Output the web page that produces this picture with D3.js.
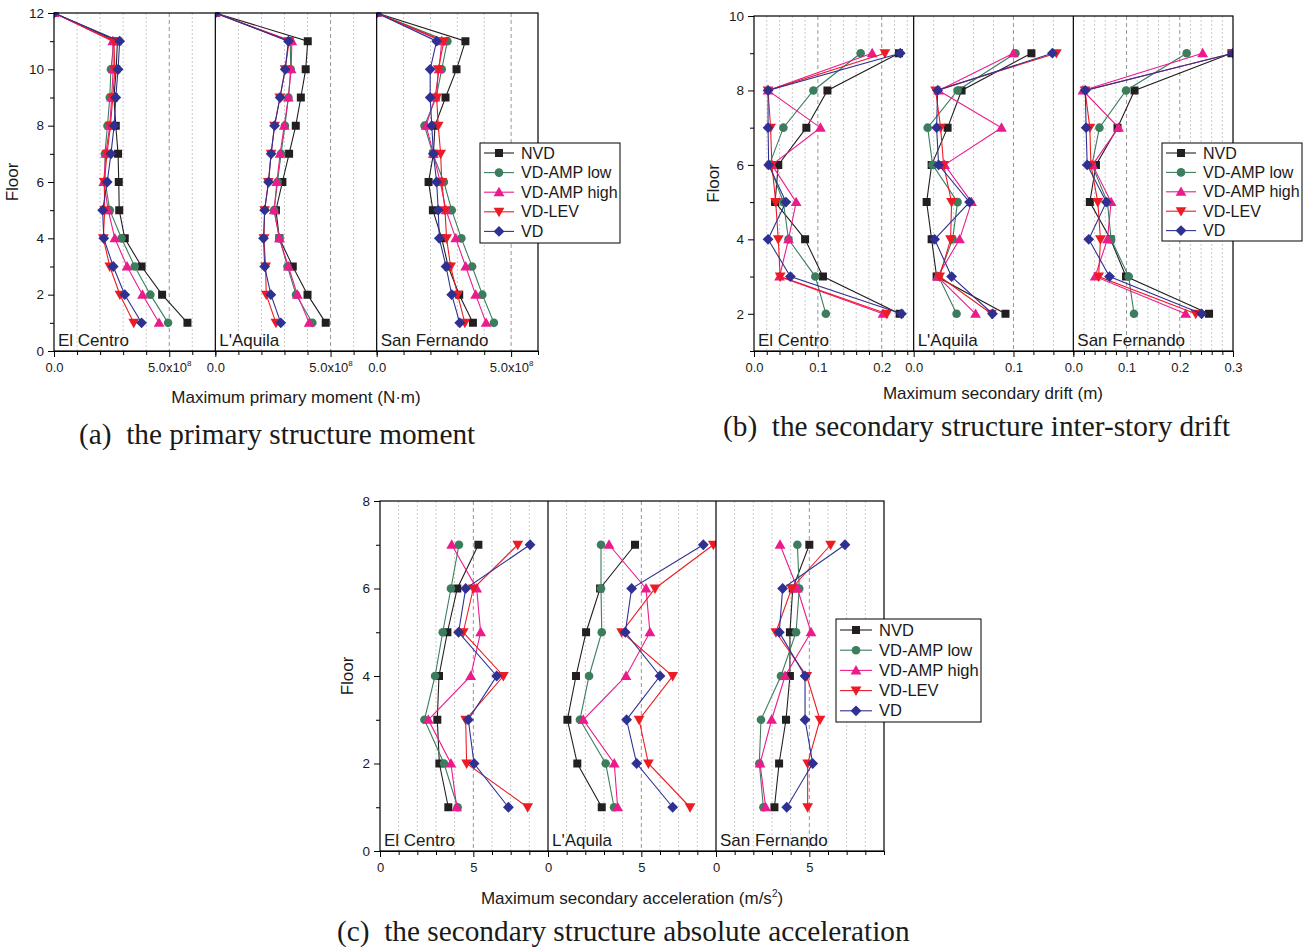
<!DOCTYPE html>
<html><head><meta charset="utf-8">
<script src="https://cdn.jsdelivr.net/npm/d3@7/dist/d3.min.js"></script>
<style>
body{margin:0;background:#fff;}
svg{display:block;}
text{font-family:"Liberation Sans",Arial,Helvetica,sans-serif;fill:#1a1a1a;}
.cap{font-family:"Liberation Serif","Times New Roman",serif;white-space:pre;}
</style>
</head><body>
<svg id="chart" width="1311" height="950"></svg>
<script>
// ---------- shared ----------
const seriesNames  = ["NVD", "VD-AMP low", "VD-AMP high", "VD-LEV", "VD"];
const seriesColors = ["#231f20", "#3b7d5d", "#ec1b8c", "#ed1c24", "#2e3192"];
const seriesShapes = ["square", "circle", "triUp", "triDown", "diamond"];
const sites = ["El Centro", "L'Aquila", "San Fernando"];

// ---------- (a) primary moment, units of 1e8 N·m ----------
const momentFloors = [1,2,3,4,5,6,7,8,9,10,11,12];
const momentElCentro = [
  [5.79,4.69,3.80,3.07,2.83,2.81,2.78,2.68,2.60,2.70,2.75,0],
  [4.95,4.18,3.50,2.93,2.42,2.22,2.21,2.32,2.42,2.47,2.60,0],
  [4.56,3.84,3.17,2.64,2.35,2.16,2.25,2.42,2.50,2.57,2.55,0],
  [3.46,2.86,2.42,2.14,2.20,2.18,2.30,2.45,2.55,2.64,2.60,0],
  [3.80,3.07,2.57,2.16,2.11,2.31,2.47,2.61,2.68,2.78,2.85,0]
];
const momentLAquila = [
  [4.79,4.00,3.36,2.78,2.63,2.91,3.20,3.49,3.71,3.92,4.01,0],
  [4.21,3.50,3.13,2.78,2.55,2.70,2.85,3.02,3.17,3.27,3.25,0],
  [4.07,3.56,3.17,2.78,2.55,2.67,2.81,2.99,3.17,3.29,3.32,0],
  [2.63,2.21,2.18,2.11,2.14,2.30,2.42,2.57,2.80,3.03,3.20,0],
  [2.84,2.41,2.14,2.09,2.14,2.31,2.42,2.57,2.81,3.03,3.17,0]
];
const momentSanFernando = [
  [3.58,3.07,2.66,2.42,2.09,1.93,2.11,2.17,2.56,2.97,3.30,0],
  [4.36,3.93,3.55,3.15,2.79,2.50,2.09,1.78,2.21,2.42,2.63,0],
  [4.07,3.68,3.31,2.94,2.58,2.36,2.11,1.84,2.17,2.32,2.42,0],
  [3.28,3.01,2.75,2.60,2.54,2.42,2.38,2.29,2.23,2.29,2.50,0],
  [3.09,2.79,2.58,2.33,2.29,2.23,2.11,2.05,1.99,1.99,2.23,0]
];
const momentMax = [7, 7, 6];

// ---------- (b) secondary drift, m ----------
const driftFloors = [2,3,4,5,6,7,8,9];
const driftElCentro = [
  [0.228,0.108,0.080,0.033,0.038,0.082,0.115,0.227],
  [0.1125,0.096,0.054,0.046,0.024,0.046,0.093,0.167],
  [0.202,0.040,0.054,0.066,0.028,0.104,0.022,0.185],
  [0.208,0.041,0.038,0.034,0.028,0.026,0.022,0.205],
  [0.231,0.057,0.022,0.050,0.023,0.022,0.022,0.229]
];
const driftLAquila = [
  [0.092,0.023,0.018,0.013,0.018,0.034,0.048,0.118],
  [0.043,0.025,0.039,0.044,0.019,0.014,0.044,0.102],
  [0.062,0.024,0.046,0.058,0.031,0.088,0.025,0.100],
  [0.078,0.026,0.037,0.038,0.030,0.027,0.022,0.143],
  [0.079,0.038,0.021,0.056,0.025,0.023,0.024,0.139]
];
const driftSanFernando = [
  [0.255,0.099,0.070,0.031,0.0425,0.083,0.115,0.297],
  [0.114,0.104,0.071,0.064,0.035,0.049,0.099,0.213],
  [0.211,0.041,0.064,0.071,0.036,0.085,0.018,0.243],
  [0.230,0.0475,0.051,0.046,0.033,0.031,0.022,0.300],
  [0.241,0.068,0.029,0.062,0.026,0.024,0.0225,0.300]
];
const driftMax = [0.25, 0.16, 0.30];

// ---------- (c) secondary acceleration, m/s² ----------
const accFloors = [1,2,3,4,5,6,7];
const accElCentro = [
  [3.66,3.18,3.07,3.16,3.61,4.14,5.27],
  [4.16,3.43,2.38,2.95,3.36,3.80,4.23],
  [4.11,3.80,2.59,4.86,5.39,5.18,3.84],
  [7.91,4.64,4.59,6.61,4.46,5.00,7.38],
  [6.88,5.04,4.73,6.25,4.21,4.59,8.04]
];
const accLAquila = [
  [2.88,1.57,1.04,1.50,2.04,2.79,4.66],
  [3.54,3.09,1.71,2.20,2.88,2.84,2.84],
  [3.73,3.55,1.89,4.18,5.46,5.25,3.27],
  [7.61,5.38,4.88,6.68,3.95,5.73,8.86],
  [6.68,4.75,4.21,6.00,4.14,4.48,8.32]
];
const accSanFernando = [
  [3.13,3.38,3.75,3.96,3.96,4.11,5.00],
  [2.54,2.32,2.41,3.48,4.29,4.46,4.36],
  [2.66,2.36,2.98,3.70,5.09,4.36,3.43],
  [4.91,4.91,5.57,4.86,3.21,4.05,6.14],
  [3.79,5.18,4.77,4.77,3.39,3.57,6.91]
];
const accMax = [9, 9, 9];

// ---------- drawing ----------
const svg = d3.select("#chart");
let clipId = 0;

function markerPath(shape) {
  switch (shape) {
    case "square":  { const h = 4.0; return `M${-h},${-h}H${h}V${h}H${-h}Z`; }
    case "circle":  { const r = 4.3; return `M${r},0A${r},${r} 0 1,1 ${-r},0A${r},${r} 0 1,1 ${r},0Z`; }
    case "triUp":   return "M0,-5.4L5.4,4L-5.4,4Z";
    case "triDown": return "M0,5.4L5.4,-4L-5.4,-4Z";
    case "diamond": { const h = 5.4; return `M0,${-h}L${h},0L0,${h}L${-h},0Z`; }
  }
}

function drawPanel(p) {
  const g = svg.append("g");
  const ys = d3.scaleLinear().domain(p.yDomain).range([p.y1, p.y0]);
  const w = (p.x1 - p.x0) / 3;

  p.subs.forEach((sub, i) => {
    const sx = p.x0 + i * w;
    const xs = d3.scaleLinear().domain([0, sub.max]).range([sx, sx + w]);
    const eq = (a, b) => Math.abs(a - b) < 1e-9;
    const minor = d3.range(0, sub.max + sub.step / 2, sub.step).map(v => +v.toFixed(6));
    const isMajor = v => sub.majors.some(m => eq(m, v));

    // grid lines
    minor.filter(v => v > 1e-9 && v < sub.max - 1e-9).forEach(v => {
      g.append("line")
        .attr("x1", xs(v)).attr("x2", xs(v)).attr("y1", p.y0).attr("y2", p.y1)
        .attr("stroke", isMajor(v) ? "#8a8a8a" : "#c4c4c4")
        .attr("stroke-width", 0.9)
        .attr("stroke-dasharray", isMajor(v) ? "4,3" : "2,2");
    });

    // bottom axis minor ticks
    const axMinor = g.append("g").attr("transform", `translate(0,${p.y1})`)
      .call(d3.axisBottom(xs).tickValues(minor.filter(v => !isMajor(v))).tickSize(4).tickSizeOuter(0).tickFormat(""));
    axMinor.select(".domain").attr("stroke", "#000");
    axMinor.selectAll(".tick line").attr("stroke", "#000");
    // bottom axis major ticks with labels
    const axMajor = g.append("g").attr("transform", `translate(0,${p.y1})`)
      .call(d3.axisBottom(xs).tickValues(sub.majors).tickSize(6).tickSizeOuter(0).tickPadding(6)
        .tickFormat((d, k) => sub.labels[k]));
    axMajor.select(".domain").remove();
    axMajor.selectAll(".tick line").attr("stroke", "#000");
    axMajor.selectAll(".tick text").attr("font-size", 13).attr("fill", "#1a1a1a")
      .attr("font-family", '"Liberation Sans",Arial,sans-serif');
    if (sub.sup) {
      axMajor.selectAll(".tick text").each(function (d, k) {
        if (sub.sup[k]) {
          d3.select(this).append("tspan").attr("font-size", 8).attr("dy", -6).text(sub.sup[k]);
        }
      });
    }

    // clip for series
    const cid = "clip" + (clipId++);
    svg.append("clipPath").attr("id", cid).append("rect")
      .attr("x", sx).attr("y", p.y0 - 0.5).attr("width", w).attr("height", p.y1 - p.y0 + 1);
    const sg = g.append("g").attr("clip-path", `url(#${cid})`);
    const line = d3.line().x(d => xs(d.v)).y(d => ys(d.f));
    p.data[i].forEach((vals, s) => {
      const pts = vals.map((v, k) => ({ v, f: p.floors[k] }));
      sg.append("path").datum(pts).attr("d", line)
        .attr("fill", "none").attr("stroke", seriesColors[s]).attr("stroke-width", 1.1);
      sg.selectAll(null).data(pts).enter().append("path")
        .attr("d", markerPath(seriesShapes[s]))
        .attr("transform", d => `translate(${xs(d.v)},${ys(d.f)})`)
        .attr("fill", seriesColors[s]);
    });

    // site label
    g.append("text").attr("x", sx + 4).attr("y", p.y1 - 5)
      .attr("font-size", 17).text(sites[i]);

    // dividers
    if (i > 0) {
      g.append("line").attr("x1", sx).attr("x2", sx).attr("y1", p.y0).attr("y2", p.y1)
        .attr("stroke", "#000").attr("stroke-width", 1.2);
    }
  });

  // frame
  g.append("rect").attr("x", p.x0).attr("y", p.y0).attr("width", p.x1 - p.x0).attr("height", p.y1 - p.y0)
    .attr("fill", "none").attr("stroke", "#000").attr("stroke-width", 1.2);

  // left axis
  const axL = g.append("g").attr("transform", `translate(${p.x0},0)`)
    .call(d3.axisLeft(ys).tickValues(p.yMinor).tickSize(4).tickSizeOuter(0).tickFormat(""));
  axL.select(".domain").remove();
  const axL2 = g.append("g").attr("transform", `translate(${p.x0},0)`)
    .call(d3.axisLeft(ys).tickValues(p.yMajor).tickSize(6).tickSizeOuter(0).tickPadding(4).tickFormat(d3.format("d")));
  axL2.select(".domain").remove();
  axL2.selectAll(".tick text").attr("font-size", 13.5).attr("fill", "#1a1a1a")
    .attr("font-family", '"Liberation Sans",Arial,sans-serif');

  // Floor label
  g.append("text").attr("transform", `translate(${p.floorX},${(p.y0 + p.y1) / 2}) rotate(-90)`)
    .attr("text-anchor", "middle").attr("font-size", 17).text("Floor");

  // x title
  const xt = g.append("text").attr("x", p.xTitleX).attr("y", p.xTitleY)
    .attr("text-anchor", "middle").attr("font-size", 17).text(p.xTitle);
  if (p.xTitleSup) {
    xt.append("tspan").attr("font-size", 10).attr("dy", -7).text(p.xTitleSup);
    xt.append("tspan").attr("dy", 7).text(p.xTitleEnd);
  }

  // caption
  g.append("text").attr("class", "cap").attr("x", p.capX).attr("y", p.capY)
    .attr("font-size", 29.3).text(p.caption);

  // legend
  const L = p.legend;
  const lg = g.append("g");
  lg.append("rect").attr("x", L.x).attr("y", L.y).attr("width", L.w).attr("height", L.h)
    .attr("fill", "#fff").attr("stroke", "#000").attr("stroke-width", 1);
  seriesNames.forEach((name, s) => {
    const cy = L.y + L.first + s * L.rowH;
    lg.append("line").attr("x1", L.x + 4).attr("x2", L.x + 4 + L.lineW).attr("y1", cy).attr("y2", cy)
      .attr("stroke", seriesColors[s]).attr("stroke-width", 1.1);
    lg.append("path").attr("d", markerPath(seriesShapes[s]))
      .attr("transform", `translate(${L.x + 4 + L.lineW / 2},${cy})`).attr("fill", seriesColors[s]);
    lg.append("text").attr("x", L.x + 11 + L.lineW).attr("y", cy + 5.5).attr("font-size", L.fs).text(name);
  });
}

// (a)
drawPanel({
  x0: 54, x1: 538, y0: 13, y1: 351,
  yDomain: [0, 12], yMajor: [0,2,4,6,8,10,12], yMinor: [1,3,5,7,9,11],
  floors: momentFloors,
  data: [momentElCentro, momentLAquila, momentSanFernando],
  subs: momentMax.map(m => ({ max: m, step: 1, majors: [0, 5], labels: ["0.0", "5.0x10"], sup: [null, "8"] })),
  floorX: 18, xTitle: "Maximum primary moment (N\u00b7m)", xTitleX: 296, xTitleY: 403,
  caption: "(a)  the primary structure moment", capX: 79, capY: 444,
  legend: { x: 480, y: 143, w: 140, h: 100, first: 10, rowH: 19.6, lineW: 30, fs: 16 }
});

// (b)
drawPanel({
  x0: 754, x1: 1233, y0: 16, y1: 351,
  yDomain: [1, 10], yMajor: [2,4,6,8,10], yMinor: [1,3,5,7,9],
  floors: driftFloors,
  data: [driftElCentro, driftLAquila, driftSanFernando],
  subs: [
    { max: driftMax[0], step: 0.02, majors: [0, 0.1, 0.2], labels: ["0.0", "0.1", "0.2"] },
    { max: driftMax[1], step: 0.02, majors: [0, 0.1], labels: ["0.0", "0.1"] },
    { max: driftMax[2], step: 0.02, majors: [0, 0.1, 0.2, 0.3], labels: ["0.0", "0.1", "0.2", "0.3"] }
  ],
  floorX: 719, xTitle: "Maximum secondary drift (m)", xTitleX: 993, xTitleY: 399,
  caption: "(b)  the secondary structure inter-story drift", capX: 723, capY: 436,
  legend: { x: 1162, y: 143, w: 140, h: 98, first: 10, rowH: 19.4, lineW: 30, fs: 16 }
});

// (c)
drawPanel({
  x0: 380, x1: 884, y0: 501, y1: 851,
  yDomain: [0, 8], yMajor: [0,2,4,6,8], yMinor: [1,3,5,7],
  floors: accFloors,
  data: [accElCentro, accLAquila, accSanFernando],
  subs: accMax.map(m => ({ max: m, step: 1, majors: [0, 5], labels: ["0", "5"] })),
  floorX: 353, xTitle: "Maximum secondary acceleration (m/s", xTitleSup: "2", xTitleEnd: ")",
  xTitleX: 632, xTitleY: 904,
  caption: "(c)  the secondary structure absolute acceleration", capX: 337, capY: 941,
  legend: { x: 836, y: 619, w: 145, h: 103, first: 11, rowH: 20.2, lineW: 32, fs: 16.5 }
});
</script>
</body></html>
